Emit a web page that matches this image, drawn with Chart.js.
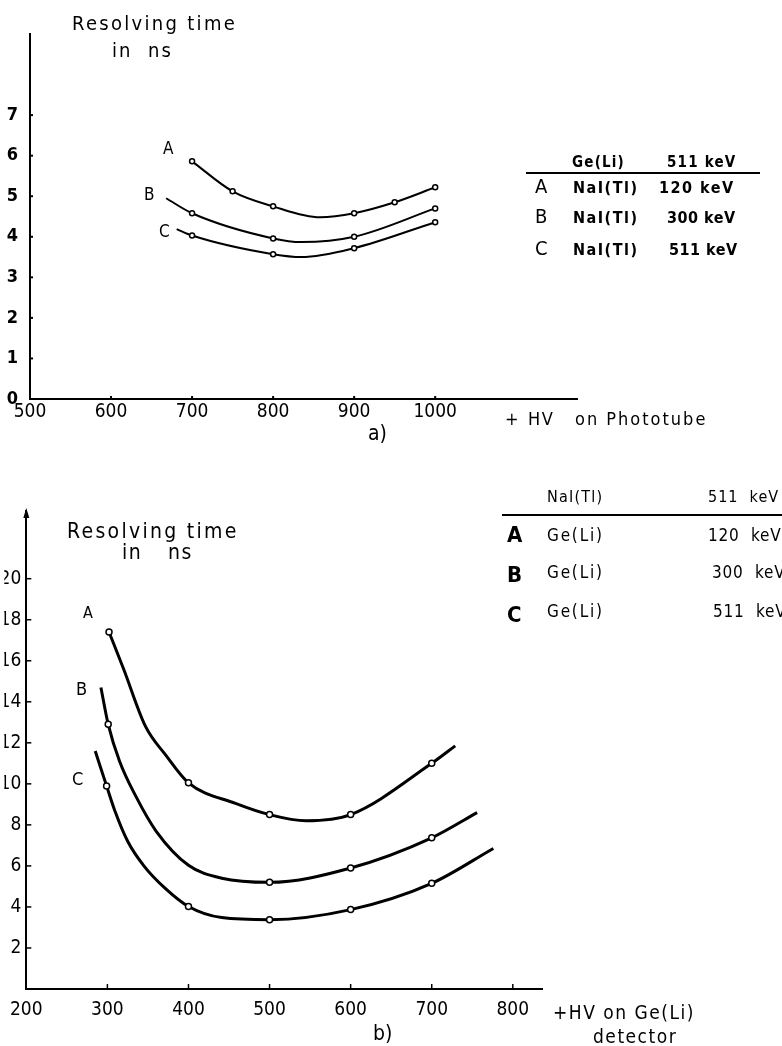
<!DOCTYPE html>
<html lang="en">
<head>
<meta charset="UTF-8">
<title>Resolving time vs HV</title>
<script src="https://cdn.jsdelivr.net/npm/chart.js"></script>
<style>
  body { margin: 0; background: #fff; }
  .page { position: relative; width: 782px; height: 1046px; overflow: hidden; }
  .plot { position: absolute; left: 0; width: 782px; }
  .t { position: absolute; white-space: pre; line-height: 1; color: #000;
       font-family: 'DejaVu Sans Condensed', 'DejaVu Sans', sans-serif; }
  .b { font-weight: bold; }
  .rule { position: absolute; height: 2px; background: #000; }
</style>
</head>
<body>
<div class="page">
  <div class="plot" style="top:0;height:440px"><canvas id="chartA" width="782" height="440"></canvas></div>
  <div class="plot" style="top:460px;height:586px"><canvas id="chartB" width="782" height="586"></canvas></div>

  <!-- a) photomultiplier HV -->
  <div class="t" style="left:72px;top:13px;font-size:20px;letter-spacing:2.3px">Resolving time</div>
  <div class="t" style="left:112px;top:40px;font-size:20px;letter-spacing:2px">in</div>
  <div class="t" style="left:148px;top:40px;font-size:20px;letter-spacing:2px">ns</div>
  <div class="t" style="left:163px;top:140px;font-size:17px">A</div>
  <div class="t" style="left:144px;top:186px;font-size:17px">B</div>
  <div class="t" style="left:159px;top:223px;font-size:17px">C</div>

  <div class="t b" style="left:572px;top:155px;font-size:15px;letter-spacing:1.2px">Ge(Li)</div>
  <div class="t b" style="left:667px;top:155px;font-size:15px;letter-spacing:1.2px">511 keV</div>
  <div class="rule" style="left:526px;top:172px;width:234px"></div>
  <div class="t" style="left:535px;top:176px;font-size:20px">A</div>
  <div class="t b" style="left:573px;top:180px;font-size:16px;letter-spacing:1.5px">NaI(Tl)</div>
  <div class="t b" style="left:659px;top:180px;font-size:16px;letter-spacing:1.5px">120 keV</div>
  <div class="t" style="left:535px;top:206px;font-size:20px">B</div>
  <div class="t b" style="left:573px;top:210px;font-size:16px;letter-spacing:1.5px">NaI(Tl)</div>
  <div class="t b" style="left:667px;top:210px;font-size:16px;letter-spacing:0.5px">300 keV</div>
  <div class="t" style="left:535px;top:238px;font-size:20px">C</div>
  <div class="t b" style="left:573px;top:242px;font-size:16px;letter-spacing:1.5px">NaI(Tl)</div>
  <div class="t b" style="left:669px;top:242px;font-size:16px;letter-spacing:0.5px">511 keV</div>

  <div class="t" style="left:505px;top:410px;font-size:18px">+</div>
  <div class="t" style="left:528px;top:410px;font-size:18px;letter-spacing:1.5px">HV</div>
  <div class="t" style="left:575px;top:410px;font-size:18px;letter-spacing:2px">on Phototube</div>
  <div class="t" style="left:368px;top:423px;font-size:21px">a)</div>

  <!-- b) Ge(Li) detector HV -->
  <div class="t" style="left:67px;top:521px;font-size:21px;letter-spacing:2.3px">Resolving time</div>
  <div class="t" style="left:122px;top:542px;font-size:21px;letter-spacing:1.4px">in</div>
  <div class="t" style="left:168px;top:542px;font-size:21px;letter-spacing:1.4px">ns</div>
  <div class="t" style="left:83px;top:605px;font-size:16px">A</div>
  <div class="t" style="left:76px;top:680px;font-size:18px">B</div>
  <div class="t" style="left:72px;top:770px;font-size:18px">C</div>

  <div class="t" style="left:547px;top:489px;font-size:16px;letter-spacing:1.2px">NaI(Tl)</div>
  <div class="t" style="left:708px;top:489px;font-size:16px;letter-spacing:1px">511  keV</div>
  <div class="rule" style="left:502px;top:514px;width:280px"></div>
  <div class="t b" style="left:507px;top:524px;font-size:22px">A</div>
  <div class="t" style="left:547px;top:527px;font-size:17px;letter-spacing:1.8px">Ge(Li)</div>
  <div class="t" style="left:708px;top:527px;font-size:17px;letter-spacing:0.8px">120  keV</div>
  <div class="t b" style="left:507px;top:564px;font-size:22px">B</div>
  <div class="t" style="left:547px;top:564px;font-size:17px;letter-spacing:1.8px">Ge(Li)</div>
  <div class="t" style="left:712px;top:564px;font-size:17px;letter-spacing:0.8px">300  keV</div>
  <div class="t b" style="left:507px;top:604px;font-size:22px">C</div>
  <div class="t" style="left:547px;top:603px;font-size:17px;letter-spacing:1.8px">Ge(Li)</div>
  <div class="t" style="left:713px;top:603px;font-size:17px;letter-spacing:0.8px">511  keV</div>

  <div class="t" style="left:553px;top:1003px;font-size:19px;letter-spacing:1.5px">+HV on Ge(Li)</div>
  <div class="t" style="left:593px;top:1027px;font-size:19px;letter-spacing:1.5px">detector</div>
  <div class="t" style="left:373px;top:1023px;font-size:21px">b)</div>
</div>

<script>
// a) resolving time (ns) against + HV on the phototube (V)
const aTicksX = [500, 600, 700, 800, 900, 1000];
const aTicksY = [0, 1, 2, 3, 4, 5, 6, 7];
const aAx = [700, 750, 800, 858, 900, 950, 1000];
const aAy = [5.86, 5.12, 4.75, 4.48, 4.58, 4.85, 5.22];
const aAmark = [1, 1, 1, 0, 1, 1, 1];
const aBx = [668, 700, 800, 835, 900, 1000];
const aBy = [4.95, 4.58, 3.96, 3.87, 4.0, 4.7];
const aBmark = [0, 1, 1, 0, 1, 1];
const aCx = [681, 700, 800, 835, 900, 1000];
const aCy = [4.19, 4.03, 3.57, 3.5, 3.72, 4.36];
const aCmark = [0, 1, 1, 0, 1, 1];

// b) resolving time (ns) against + HV on the Ge(Li) detector (V)
const bTicksX = [200, 300, 400, 500, 600, 700, 800];
const bTicksY = [2, 4, 6, 8, 10, 12, 14, 16, 18, 20];
const bAx = [302, 320, 347, 372, 400, 458, 500, 545, 600, 700, 729];
const bAy = [17.4, 15.6, 12.8, 11.4, 10.05, 9.05, 8.5, 8.2, 8.5, 11.0, 11.85];
const bAmark = [1, 0, 0, 0, 1, 0, 1, 0, 1, 1, 0];
const bBx = [292, 301, 315, 335, 360, 400, 441, 500, 600, 700, 756];
const bBy = [14.7, 12.9, 11.1, 9.4, 7.7, 6.03, 5.4, 5.2, 5.9, 7.37, 8.6];
const bBmark = [0, 1, 0, 0, 0, 0, 0, 1, 1, 1, 0];
const bCx = [285, 299, 310, 325, 345, 370, 400, 441, 500, 600, 700, 776];
const bCy = [11.6, 9.9, 8.6, 7.2, 6.0, 4.95, 4.02, 3.48, 3.38, 3.87, 5.15, 6.85];
const bCmark = [0, 1, 0, 0, 0, 0, 1, 0, 1, 1, 1, 0];

const FONT = "'DejaVu Sans Condensed', 'DejaVu Sans', sans-serif";

function toPoints(xs, ys) {
  return xs.map((x, i) => ({ x: x, y: ys[i] }));
}

function curve(xs, ys, marks, width, radius) {
  return {
    data: toPoints(xs, ys),
    borderColor: '#000',
    borderWidth: width,
    cubicInterpolationMode: 'monotone',
    pointRadius: ctx => marks[ctx.dataIndex] ? radius : 0,
    pointBackgroundColor: '#fff',
    pointBorderColor: '#000',
    pointBorderWidth: 1.5
  };
}

// short tick marks drawn inward from both axes, plus an optional arrow on y
const innerTicks = {
  id: 'innerTicks',
  afterDraw(chart, args, opts) {
    const { ctx, chartArea, scales } = chart;
    ctx.save();
    ctx.strokeStyle = '#000';
    ctx.fillStyle = '#000';
    ctx.lineWidth = opts.width;
    scales.x.ticks.forEach(t => {
      const px = scales.x.getPixelForValue(t.value);
      if (px <= chartArea.left + 2) return;
      ctx.beginPath();
      ctx.moveTo(px, chartArea.bottom);
      ctx.lineTo(px, chartArea.bottom - opts.len);
      ctx.stroke();
    });
    scales.y.ticks.forEach(t => {
      const py = scales.y.getPixelForValue(t.value);
      if (py >= chartArea.bottom - 2) return;
      ctx.beginPath();
      ctx.moveTo(chartArea.left, py);
      ctx.lineTo(chartArea.left + opts.len, py);
      ctx.stroke();
    });
    if (opts.arrow) {
      const x = chartArea.left, y = chartArea.top;
      ctx.beginPath();
      ctx.moveTo(x, y - 3);
      ctx.lineTo(x - 3, y + 7);
      ctx.lineTo(x + 3, y + 7);
      ctx.closePath();
      ctx.fill();
    }
    ctx.restore();
  }
};

function makeChart(id, o) {
  return new Chart(document.getElementById(id), {
    type: 'line',
    data: { datasets: o.datasets },
    plugins: [innerTicks],
    options: {
      responsive: false,
      animation: false,
      layout: { padding: o.padding },
      plugins: {
        legend: { display: false },
        tooltip: { enabled: false },
        innerTicks: o.tickMarks
      },
      scales: {
        x: {
          type: 'linear',
          min: o.xMin, max: o.xMax,
          afterBuildTicks: s => { s.ticks = o.xTicks.map(v => ({ value: v })); },
          afterFit: s => { s.height = 30; },
          grid: { display: false, drawTicks: false },
          border: { display: true, color: '#000', width: 2 },
          ticks: { color: '#000', padding: o.xPad, maxRotation: 0, autoSkip: false,
                   callback: v => String(v),
                   font: { family: FONT, size: o.xFontSize } }
        },
        y: {
          type: 'linear',
          min: 0, max: o.yMax,
          afterBuildTicks: s => { s.ticks = o.yTicks.map(v => ({ value: v })); },
          afterFit: s => { s.width = o.yWidth; },
          grid: { display: false, drawTicks: false },
          border: { display: true, color: '#000', width: 2 },
          ticks: { color: '#000', padding: o.yPad, autoSkip: false,
                   callback: v => String(v),
                   font: { family: FONT, size: o.yFontSize, weight: o.yWeight } }
        }
      }
    }
  });
}

makeChart('chartA', {
  datasets: [
    curve(aAx, aAy, aAmark, 2, 2.5),
    curve(aBx, aBy, aBmark, 2, 2.5),
    curve(aCx, aCy, aCmark, 2, 2.5)
  ],
  padding: { left: 0, top: 34, right: 205, bottom: 11 },
  xMin: 500, xMax: 1175, xTicks: aTicksX, xPad: 2, xFontSize: 19,
  yMax: 9, yTicks: aTicksY, yWidth: 30, yPad: 12, yFontSize: 18, yWeight: 'bold',
  tickMarks: { len: 3, width: 2, arrow: false }
});

makeChart('chartB', {
  datasets: [
    curve(bAx, bAy, bAmark, 3, 3),
    curve(bBx, bBy, bBmark, 3, 3),
    curve(bCx, bCy, bCmark, 3, 3)
  ],
  padding: { left: 0, top: 51, right: 240, bottom: 27 },
  xMin: 200, xMax: 836, xTicks: bTicksX, xPad: 10, xFontSize: 19,
  yMax: 23.3, yTicks: bTicksY, yWidth: 22, yPad: 5, yFontSize: 19, yWeight: 'normal',
  tickMarks: { len: 5, width: 1.5, arrow: true }
});
</script>
</body>
</html>
